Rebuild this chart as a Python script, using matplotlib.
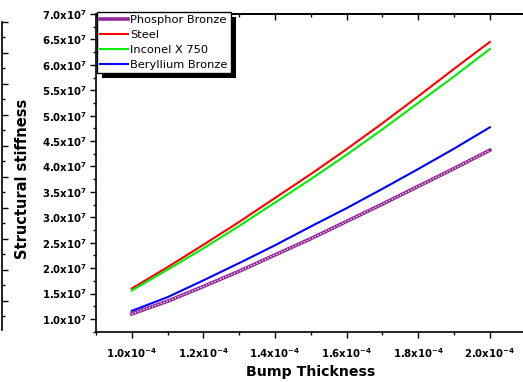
import matplotlib
matplotlib.use('Agg')
import matplotlib.pyplot as plt
from matplotlib.ticker import MultipleLocator, FixedLocator, FixedFormatter
from matplotlib.patches import Rectangle
from matplotlib.transforms import IdentityTransform

# ---- data ----
thickness = [1.0e-4, 1.1e-4, 1.2e-4, 1.3e-4, 1.4e-4, 1.5e-4,
             1.6e-4, 1.7e-4, 1.8e-4, 1.9e-4, 2.0e-4]
phosphor_bronze = [1.10e7, 1.35e7, 1.64e7, 1.94e7, 2.26e7, 2.58e7,
                   2.92e7, 3.26e7, 3.61e7, 3.96e7, 4.32e7]
steel = [1.60e7, 2.02e7, 2.46e7, 2.91e7, 3.38e7, 3.85e7,
         4.34e7, 4.85e7, 5.38e7, 5.92e7, 6.45e7]
inconel_x750 = [1.56e7, 1.97e7, 2.39e7, 2.83e7, 3.29e7, 3.75e7,
                4.23e7, 4.73e7, 5.25e7, 5.77e7, 6.31e7]
beryllium_bronze = [1.16e7, 1.43e7, 1.76e7, 2.10e7, 2.45e7, 2.82e7,
                    3.18e7, 3.56e7, 3.95e7, 4.35e7, 4.77e7]
series_names = ['Phosphor Bronze', 'Steel', 'Inconel X 750', 'Beryllium Bronze']

xtick_values = [1.0e-4, 1.2e-4, 1.4e-4, 1.6e-4, 1.8e-4, 2.0e-4]
xtick_mantissas = ['1.0', '1.2', '1.4', '1.6', '1.8', '2.0']
ytick_values = [1.0e7, 1.5e7, 2.0e7, 2.5e7, 3.0e7, 3.5e7, 4.0e7,
                4.5e7, 5.0e7, 5.5e7, 6.0e7, 6.5e7, 7.0e7]
ytick_mantissas = ['1.0', '1.5', '2.0', '2.5', '3.0', '3.5', '4.0',
                   '4.5', '5.0', '5.5', '6.0', '6.5', '7.0']

plt.rcParams['font.family'] = ['DejaVu Sans']
plt.rcParams['mathtext.fontset'] = 'dejavusans'

W, H = 523, 382
fig = plt.figure(figsize=(W / 100, H / 100), dpi=100)
fig.patch.set_facecolor('white')

# main axes (right part is cropped off the image in the reference)
left_px, right_px, top_px, bot_px = 96, 525.6, 14, 331.7
ax = fig.add_axes([left_px / W, 1 - bot_px / H,
                   (right_px - left_px) / W, (bot_px - top_px) / H])

ax.plot(thickness, phosphor_bronze, color='#93279A', lw=2.6,
        label=series_names[0], zorder=3)
ax.plot(thickness, phosphor_bronze, color='#F4E0F4', lw=1.0,
        ls=(0, (0.9, 1.3)), zorder=3.1)
ax.plot(thickness, steel, color='#FF0000', lw=1.5, label=series_names[1], zorder=3)
ax.plot(thickness, inconel_x750, color='#00EE00', lw=1.5, label=series_names[2], zorder=3)
ax.plot(thickness, beryllium_bronze, color='#0000FF', lw=1.5, label=series_names[3], zorder=3)

ax.set_xlim(0.9e-4, 2.1e-4)
ax.set_ylim(0.75e7, 7.0e7)

ax.xaxis.set_major_locator(FixedLocator(xtick_values))
ax.xaxis.set_major_formatter(FixedFormatter(
    [r'$\mathbf{%s x10^{-4}}$' % m for m in xtick_mantissas]))
ax.xaxis.set_minor_locator(MultipleLocator(0.1e-4))
ax.yaxis.set_major_locator(FixedLocator(ytick_values))
ax.yaxis.set_major_formatter(FixedFormatter(
    [r'$\mathbf{%s x10^{7}}$' % m for m in ytick_mantissas]))
ax.yaxis.set_minor_locator(MultipleLocator(0.25e7))

ax.tick_params(axis='both', which='major', direction='out', length=4.2,
               width=1.0, labelsize=7.3)
ax.tick_params(axis='both', which='minor', direction='out', length=2.2, width=1.0)
ax.tick_params(axis='x', which='major', pad=6)
ax.tick_params(axis='y', which='major', pad=2)

for side in ['left', 'bottom', 'top']:
    ax.spines[side].set_linewidth(1.2)
ax.spines['right'].set_visible(False)

# inward ticks on the top spine
sec = ax.secondary_xaxis('top')
sec.xaxis.set_major_locator(FixedLocator(xtick_values))
sec.xaxis.set_minor_locator(MultipleLocator(0.1e-4))
sec.tick_params(axis='x', which='major', direction='in', length=4.2, width=1.0,
                labeltop=False)
sec.tick_params(axis='x', which='minor', direction='in', length=2.2, width=1.0)
sec.spines['top'].set_linewidth(1.2)

ax.set_xlabel('Bump Thickness', fontsize=10.2, fontweight='bold')
ax.set_ylabel('Structural stiffness', fontsize=10.5, fontweight='bold')
ax.xaxis.set_label_coords(0.5, -0.105)
ax.yaxis.set_label_coords(-0.153, 0.48)

leg = ax.legend(loc='upper left',
                bbox_to_anchor=(1 / (right_px - left_px), 1 + 2 / (bot_px - top_px)),
                borderaxespad=0, fontsize=8.2, frameon=True, fancybox=False,
                framealpha=1, edgecolor='black', handlelength=2.4,
                handletextpad=0.2, borderpad=0.3, labelspacing=0.42)
leg.get_frame().set_linewidth(1.0)
leg.set_zorder(6)

# partial frame of a neighbouring plot at the left edge
lax = fig.add_axes([2 / W, 1 - 330 / H, 10 / W, 308 / H])
lax.set_facecolor('none')
lax.set_ylim(-0.905, 19)
lax.set_xlim(0, 1)
for side in ['right', 'top', 'bottom']:
    lax.spines[side].set_visible(False)
lax.spines['left'].set_linewidth(1.2)
lax.yaxis.set_major_locator(FixedLocator(list(range(1, 20, 2))))
lax.yaxis.set_minor_locator(FixedLocator(list(range(0, 19, 2))))
lax.tick_params(axis='y', which='major', direction='in', length=4.5, width=1.0,
                labelleft=False)
lax.tick_params(axis='y', which='minor', direction='in', length=2.5, width=1.0)
lax.set_xticks([])

# solid black legend shadow
fig.canvas.draw()
bb = leg.get_frame().get_window_extent()
shadow = Rectangle((bb.x0 + 5, bb.y0 - 5), bb.width, bb.height,
                   transform=IdentityTransform(), facecolor='black',
                   edgecolor='none', zorder=5.5, clip_on=False)
ax.add_artist(shadow)

fig.savefig('out.png', dpi=100)
